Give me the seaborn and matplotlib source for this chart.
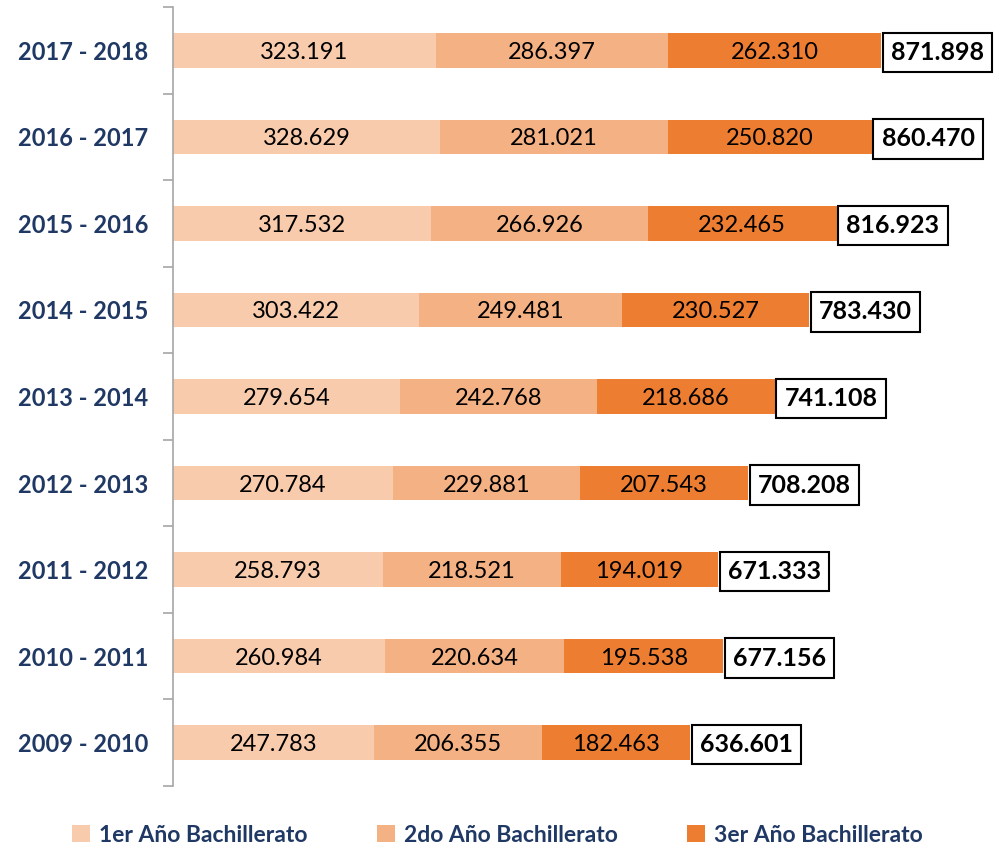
import numpy as np
import pandas as pd
import matplotlib
matplotlib.use("Agg")
import matplotlib.pyplot as plt
from matplotlib.patches import Patch
import seaborn as sns

# ── Data ──────────────────────────────────────────────────────────────────────
periods = ["2017 - 2018", "2016 - 2017", "2015 - 2016", "2014 - 2015",
           "2013 - 2014", "2012 - 2013", "2011 - 2012", "2010 - 2011",
           "2009 - 2010"]
primero = [323191, 328629, 317532, 303422, 279654, 270784, 258793, 260984, 247783]
segundo = [286397, 281021, 266926, 249481, 242768, 229881, 218521, 220634, 206355]
tercero = [262310, 250820, 232465, 230527, 218686, 207543, 194019, 195538, 182463]
series_names = ["1er Año Bachillerato", "2do Año Bachillerato", "3er Año Bachillerato"]
colors = ["#F8CBAD", "#F4B183", "#ED7D31"]
NAVY = "#1F3864"

sns.set_theme(style="white")
plt.rcParams["font.family"] = ["Lato", "DejaVu Sans"]

df = pd.DataFrame({"Periodo": periods, "p1": primero, "p2": segundo, "p3": tercero})
df["c1"] = df["p1"]
df["c2"] = df["p1"] + df["p2"]
df["c3"] = df["c2"] + df["p3"]


def _fmt(v):
    """Spanish thousand separator: 323191 -> '323.191'."""
    return f"{int(v):,}".replace(",", ".")


fig = plt.figure(figsize=(9.95, 8.46), dpi=100)
ax = fig.add_axes([0.1739, 0.0709, 0.8261, 0.9208])

# stacked bars by overdrawing cumulative totals, largest first
for col, color in zip(["c3", "c2", "c1"], colors[::-1]):
    sns.barplot(data=df, x=col, y="Periodo", order=periods, color=color,
                width=0.4, orient="h", saturation=1, linewidth=0,
                edgecolor="none", ax=ax)

ax.set_xlim(0, 1012000)
ax.set_ylim(8.5, -0.5)

# segment labels
for i, row in df.iterrows():
    starts = [0, row["c1"], row["c2"]]
    for s, v in zip(starts, [row["p1"], row["p2"], row["p3"]]):
        ax.text(s + v / 2, i, _fmt(v), ha="center", va="center_baseline",
                fontsize=17, color="black")
    ax.annotate(_fmt(row["c3"]), xy=(row["c3"], i), xytext=(7, 0),
                textcoords="offset points", ha="left", va="center_baseline",
                fontsize=18, fontweight="bold", color="black",
                bbox=dict(boxstyle="square,pad=0.33", facecolor="white",
                          edgecolor="black", linewidth=1.5))

# axes styling
for side in ["top", "right", "bottom"]:
    ax.spines[side].set_visible(False)
ax.spines["left"].set_color("#A6A6A6")
ax.spines["left"].set_linewidth(1.2)
ax.set_xticks([])
ax.set_xlabel("")
ax.set_ylabel("")
ax.set_yticks(range(len(periods)))
ax.set_yticklabels(periods, fontsize=17, fontweight="bold", color=NAVY)
ax.set_yticks(np.arange(-0.5, len(periods), 1), minor=True)
ax.tick_params(axis="y", which="major", length=0, pad=18)
ax.tick_params(axis="y", which="minor", length=7, width=1.2,
               color="#A6A6A6", direction="out", left=True)

handles = [Patch(facecolor=c, edgecolor="none", label=n)
           for c, n in zip(colors, series_names)]
leg = fig.legend(handles=handles, loc="center", bbox_to_anchor=(0.5, 0.013),
                 ncol=3, frameon=False, handlelength=0.8, handleheight=0.8,
                 handletextpad=0.4, columnspacing=3.0,
                 prop={"size": 16.5, "weight": "bold"})
for t in leg.get_texts():
    t.set_color(NAVY)

fig.savefig("out.png", dpi=100)
